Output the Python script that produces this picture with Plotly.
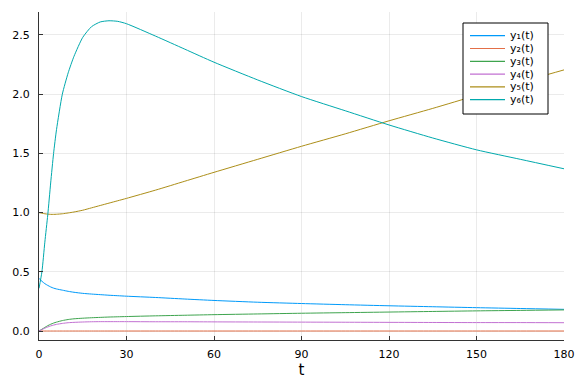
import plotly.graph_objects as go

t = [0, 1, 2, 3, 4, 5, 6, 8, 10, 12, 15, 18, 21, 24, 27, 30, 40, 50, 60, 75, 90, 105, 120, 135, 150, 165, 180]

y1 = [0.445, 0.42, 0.40, 0.385, 0.372, 0.362, 0.355, 0.345, 0.335, 0.327, 0.318, 0.312, 0.307, 0.302, 0.298, 0.294,
      0.283, 0.27, 0.258, 0.243, 0.232, 0.222, 0.213, 0.205, 0.197, 0.19, 0.183]
y2 = [0.0] * 27
y3 = [0.0, 0.015, 0.03, 0.045, 0.057, 0.067, 0.075, 0.088, 0.097, 0.103, 0.108, 0.112, 0.115, 0.118, 0.12, 0.122,
      0.128, 0.133, 0.138, 0.144, 0.15, 0.155, 0.16, 0.165, 0.17, 0.174, 0.178]
y4 = [0.0, 0.012, 0.024, 0.034, 0.043, 0.05, 0.056, 0.064, 0.07, 0.073, 0.076, 0.078, 0.079, 0.079, 0.079, 0.079,
      0.078, 0.078, 0.077, 0.076, 0.075, 0.074, 0.073, 0.072, 0.071, 0.071, 0.07]
y5 = [1.0, 0.995, 0.99, 0.987, 0.985, 0.985, 0.986, 0.99, 0.997, 1.005, 1.02, 1.04, 1.06, 1.08, 1.10, 1.12,
      1.19, 1.265, 1.34, 1.45, 1.56, 1.665, 1.775, 1.88, 1.99, 2.10, 2.205]
y6 = [0.36, 0.5, 0.75, 0.98, 1.25, 1.5, 1.7, 2.0, 2.18, 2.32, 2.48, 2.57, 2.61, 2.62, 2.615, 2.595,
      2.49, 2.38, 2.27, 2.12, 1.98, 1.86, 1.74, 1.63, 1.53, 1.45, 1.37]

labels = ["y₁(t)", "y₂(t)", "y₃(t)", "y₄(t)", "y₅(t)", "y₆(t)"]
colors = ["#009AFA", "#E36F47", "#3EA44E", "#C271D2", "#AC8E18", "#00A9AD"]
series = [y1, y2, y3, y4, y5, y6]

x_ticks = [0, 30, 60, 90, 120, 150, 180]
y_ticks = [0.0, 0.5, 1.0, 1.5, 2.0, 2.5]

W, H = 576, 384
L, R, T, B = 39, 12, 12, 44
pw, ph = W - L - R, H - T - B

def px(xp):
    return (xp - L) / pw

def py(yp):
    return (H - B - yp) / ph

FONT = "DejaVu Sans"

fig = go.Figure()
for lab, col, ys in zip(labels, colors, series):
    fig.add_trace(go.Scatter(x=t, y=ys, mode="lines", name=lab,
                             line=dict(color=col, width=1, shape="spline", smoothing=0.6),
                             showlegend=False))

# custom compact legend, like the original
shapes = [dict(type="rect", xref="paper", yref="paper",
               x0=px(463), x1=px(548), y0=py(114), y1=py(23),
               line=dict(color="black", width=1), fillcolor="white", layer="above")]
annotations = []
y0 = 35.7
step = 12.8
for i, (lab, col) in enumerate(zip(labels, colors)):
    yc = y0 + i * step
    shapes.append(dict(type="line", xref="paper", yref="paper",
                       x0=px(470), x1=px(505), y0=py(yc), y1=py(yc),
                       line=dict(color=col, width=1.2), layer="above"))
    annotations.append(dict(xref="paper", yref="paper", x=px(508), y=py(yc),
                            text=lab, showarrow=False, xanchor="left", yanchor="middle",
                            font=dict(family=FONT, size=11, color="black")))

fig.update_layout(
    width=W, height=H,
    margin=dict(l=L, r=R, t=T, b=B, pad=0, autoexpand=False),
    paper_bgcolor="white", plot_bgcolor="white",
    font=dict(family=FONT, size=11, color="black"),
    shapes=shapes, annotations=annotations,
    showlegend=False,
)
fig.update_xaxes(
    range=[0, 180], tickvals=x_ticks, ticktext=[str(v) for v in x_ticks],
    showline=True, linecolor="#333333", linewidth=1, mirror=False,
    ticks="inside", ticklen=4, tickcolor="#333333", tickwidth=1,
    showgrid=True, gridcolor="rgba(0,0,0,0.08)", gridwidth=0.5,
    zeroline=False, ticklabelstandoff=4, automargin=False,
    tickfont=dict(family=FONT, size=11, color="black"),
    title=dict(text="t", font=dict(family=FONT, size=15, color="black"), standoff=4),
)
fig.update_yaxes(
    range=[-0.076, 2.694], tickvals=y_ticks, ticktext=[f"{v:.1f}" for v in y_ticks],
    showline=True, linecolor="#333333", linewidth=1, mirror=False,
    ticks="inside", ticklen=4, tickcolor="#333333", tickwidth=1,
    showgrid=True, gridcolor="rgba(0,0,0,0.08)", gridwidth=0.5,
    zeroline=False, ticklabelstandoff=6, automargin=False,
    tickfont=dict(family=FONT, size=11, color="black"),
)

fig.write_html("out.html", config={"displayModeBar": False},
               post_script="document.body.style.margin='0px';")
